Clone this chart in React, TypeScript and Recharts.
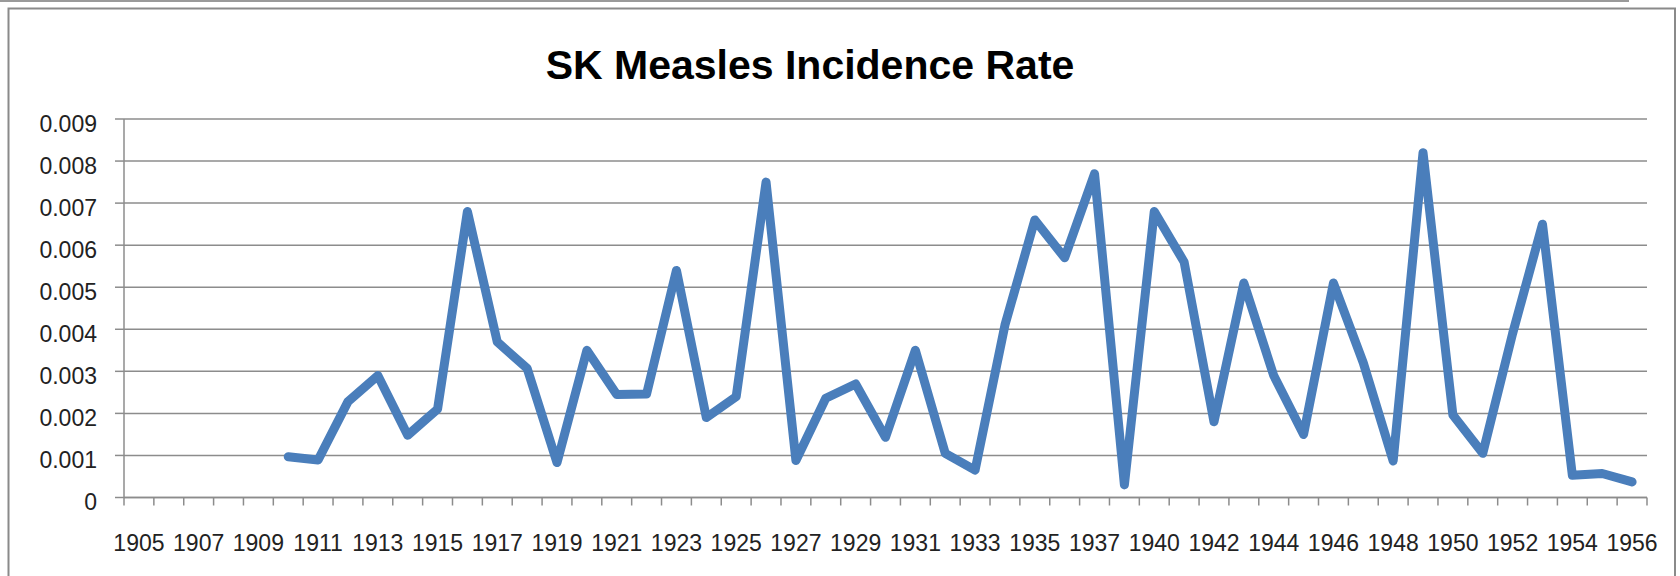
import React from 'react';
import { LineChart, Line, XAxis, YAxis, CartesianGrid } from 'recharts';

// ---- data ----
const years = [
  '1905', '1906', '1907', '1908', '1909', '1910', '1911', '1912', '1913', '1914',
  '1915', '1916', '1917', '1918', '1919', '1920', '1921', '1922', '1923', '1924',
  '1925', '1926', '1927', '1928', '1929', '1930', '1931', '1932', '1933', '1934',
  '1935', '1936', '1937', '1938', '1940', '1941', '1942', '1943', '1944', '1945',
  '1946', '1947', '1948', '1949', '1950', '1951', '1952', '1953', '1954', '1955',
  '1956',
];

const rates: (number | null)[] = [
  null, null, null, null, null, 0.00097, 0.00089, 0.00228, 0.0029, 0.00148,
  0.0021, 0.0068, 0.0037, 0.00307, 0.00083, 0.0035, 0.00245, 0.00246, 0.0054, 0.0019,
  0.0024, 0.0075, 0.00088, 0.00236, 0.0027, 0.00143, 0.0035, 0.00105, 0.00065, 0.0041,
  0.0066, 0.0057, 0.0077, 0.0003, 0.0068, 0.0056, 0.0018, 0.0051, 0.0029, 0.0015,
  0.0051, 0.0032, 0.00087, 0.0082, 0.00196, 0.00105, 0.0039, 0.0065, 0.00053, 0.00057,
  0.00037,
];

const yTicks = [0, 0.001, 0.002, 0.003, 0.004, 0.005, 0.006, 0.007, 0.008, 0.009];
const yTickLabels = ['0', '0.001', '0.002', '0.003', '0.004', '0.005', '0.006', '0.007', '0.008', '0.009'];
const chartTitle = 'SK Measles Incidence Rate';

const data = years.map((year, i) => ({ year, rate: rates[i] }));

// ---- layout ----
const W = 1680;
const H = 576;
const PLOT_LEFT = 124;
const PLOT_RIGHT = 1647;
const PLOT_TOP = 119;
const PLOT_BOTTOM = 497.5;
const Y_AXIS_W = 100;
const X_AXIS_H = 60;
const CAT_W = (PLOT_RIGHT - PLOT_LEFT) / years.length;
const HALF = CAT_W / 2;
const GRID = '#8c8c8c';
const FONT = "'Liberation Sans', Arial, sans-serif";
const TEXT = '#222222';

const XTick = (props: any) => {
  const { x, payload, index } = props;
  const idx = payload && typeof payload.index === 'number' ? payload.index : index;
  const cx = payload && typeof payload.coordinate === 'number' ? payload.coordinate : x;
  return (
    <g>
      <line x1={cx - HALF} x2={cx - HALF} y1={PLOT_BOTTOM} y2={PLOT_BOTTOM + 8} stroke={GRID} strokeWidth={1.5} />
      {idx === years.length - 1 && (
        <line x1={cx + HALF} x2={cx + HALF} y1={PLOT_BOTTOM} y2={PLOT_BOTTOM + 8} stroke={GRID} strokeWidth={1.5} />
      )}
      {idx % 2 === 0 && (
        <text x={cx} y={550.5} textAnchor="middle" fontFamily={FONT} fontSize={23} fill={TEXT}>
          {payload.value}
        </text>
      )}
    </g>
  );
};

const YTick = (props: any) => {
  const { y, payload } = props;
  const i = yTicks.indexOf(payload.value);
  const label = i >= 0 ? yTickLabels[i] : String(payload.value);
  return (
    <text x={PLOT_LEFT - 27} y={y + 12.5} textAnchor="end" fontFamily={FONT} fontSize={23} fill={TEXT}>
      {label}
    </text>
  );
};

export default function App() {
  return (
    <div style={{ position: 'absolute', left: 0, top: 0, width: W, height: H, background: '#ffffff', overflow: 'hidden' }}>
      <svg width={W} height={H} style={{ position: 'absolute', left: 0, top: 0 }}>
        <line x1={0} x2={1629} y1={1} y2={1} stroke="#9a9a9a" strokeWidth={2} />
        <rect x={8.5} y={8.5} width={1666.5} height={600} fill="none" stroke="#8a8a8a" strokeWidth={2} />
        <text x={810} y={78.5} textAnchor="middle" fontFamily={FONT} fontWeight="bold" fontSize={41} fill="#000000">
          {chartTitle}
        </text>
      </svg>
      <div style={{ position: 'absolute', left: 0, top: 0 }}>
        <LineChart
          width={W}
          height={H}
          data={data}
          margin={{ top: PLOT_TOP, right: W - PLOT_RIGHT, bottom: H - PLOT_BOTTOM - X_AXIS_H, left: PLOT_LEFT - Y_AXIS_W }}
        >
          <CartesianGrid vertical={false} horizontal={true} stroke={GRID} strokeWidth={1.5} />
          <XAxis
            dataKey="year"
            type="category"
            scale="point"
            interval={0}
            height={X_AXIS_H}
            padding={{ left: HALF, right: HALF }}
            axisLine={{ stroke: GRID, strokeWidth: 1.5 }}
            tickLine={false}
            tick={(p: any) => <XTick {...p} />}
          />
          <YAxis
            type="number"
            domain={[0, 0.009]}
            ticks={yTicks}
            interval={0}
            width={Y_AXIS_W}
            tickSize={9}
            axisLine={{ stroke: GRID, strokeWidth: 1.5 }}
            tickLine={{ stroke: GRID, strokeWidth: 1.5 }}
            tick={(p: any) => <YTick {...p} />}
          />
          <Line
            type="linear"
            dataKey="rate"
            stroke="#4a7ebb"
            strokeWidth={9}
            strokeLinejoin="round"
            strokeLinecap="round"
            dot={false}
            activeDot={false}
            connectNulls={false}
            isAnimationActive={false}
          />
        </LineChart>
      </div>
    </div>
  );
}
